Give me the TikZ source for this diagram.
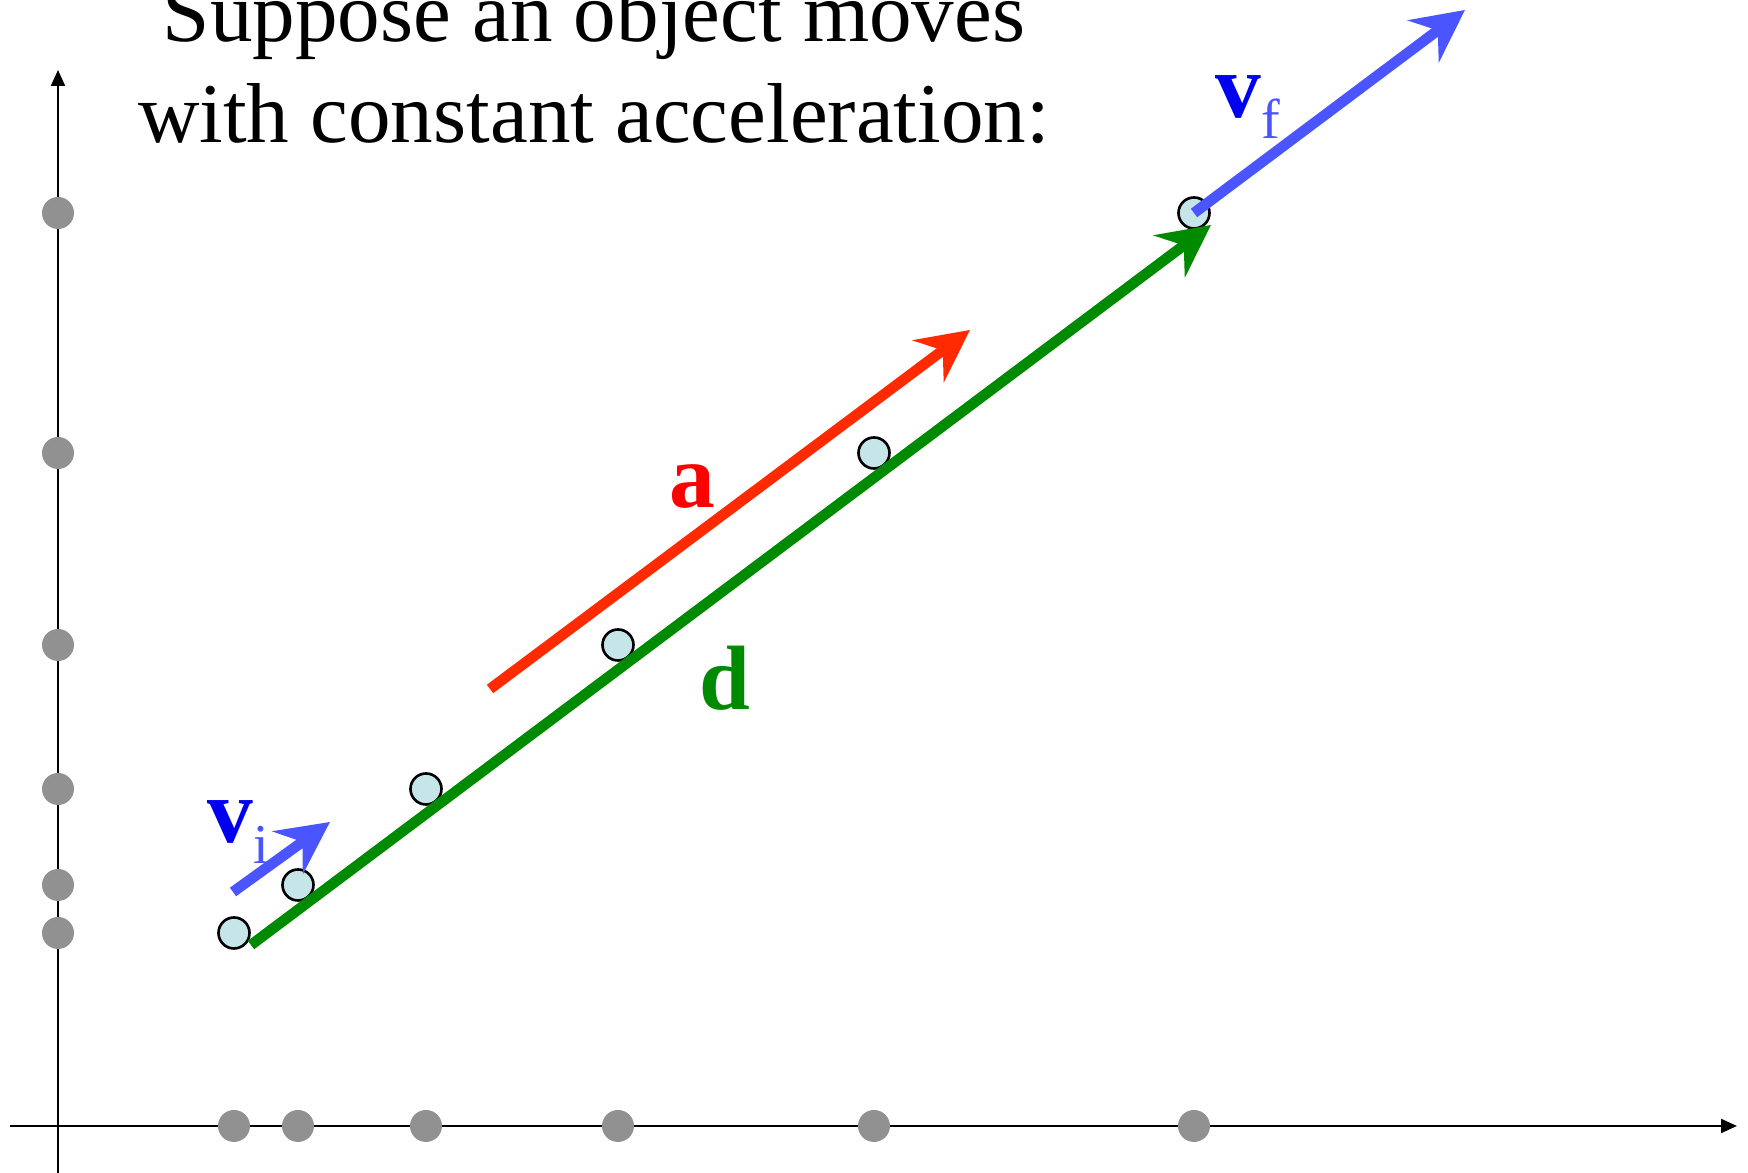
\documentclass[tikz,border=0pt]{standalone}
\usepackage{fontspec}
\setmainfont{Liberation Serif}
\usetikzlibrary{positioning,arrows.meta}
\definecolor{dotgray}{HTML}{919191}
\definecolor{ballfill}{HTML}{C5E5E8}
\definecolor{accred}{HTML}{FF2A00}
\definecolor{dispgreen}{HTML}{008A00}
\definecolor{velblue}{HTML}{4A55FF}
\definecolor{labblue}{HTML}{0000F0}
\newcommand{\velsub}[1]{{\fontsize{16}{16}\selectfont\mdseries\color{velblue}\raisebox{-5.7pt}{#1}}}
\tikzset{
  axisline/.style={line width=0.6pt, -{Triangle[length=1.6mm, width=1.4mm]}},
  tickdot/.style={circle, fill=dotgray, minimum size=3.2mm, inner sep=0pt},
  ballnode/.style={circle, draw, line width=0.75pt, fill=ballfill, minimum size=3.1mm, inner sep=0pt},
  vecarrow/.style={line width=3pt, -{Stealth[length=5.2mm, width=5.2mm, inset=1.8mm]}},
  veclabel/.style={font=\fontsize{26}{26}\selectfont\bfseries, inner sep=0pt, anchor=base},
  titletext/.style={font=\fontsize{24.2}{28}\selectfont, inner sep=0pt, anchor=base}
}
\begin{document}
\begin{tikzpicture}
  \useasboundingbox (0,0) rectangle (17.48,11.73);
  % axes
  \coordinate (xstart) at (0.10,0.47);
  \coordinate (xend) at (17.37,0.47);
  \coordinate (ystart) at (0.58,0);
  \coordinate (yend) at (0.58,11.03);
  \draw[axisline] (xstart) -- (xend);
  \draw[axisline] (ystart) -- (yend);
  % positions at equal time steps
  \foreach \k/\n in {0/0,1/1,2/3,3/6,4/10,5/15} {
    \node[tickdot] (tx\k) at (2.34+0.64*\n,0.47) {};
    \node[tickdot] (ty\k) at (0.58,2.40+0.48*\n) {};
    \node[ballnode] (p\k) at (2.34+0.64*\n,2.40+0.48*\n) {};
  }
  % displacement
  \draw[vecarrow, dispgreen] ([shift={(0.17,-0.12)}]p0.center) -- ([shift={(0.17,-0.12)}]p5.center);
  % acceleration
  \coordinate (acc0) at (4.90,4.84);
  \coordinate (acc1) at (9.70,8.43);
  \draw[vecarrow, accred] (acc0) -- (acc1);
  % velocities
  \coordinate (vi0) at (2.33,2.81);
  \coordinate (vi1) at (3.30,3.51);
  \draw[vecarrow, velblue] (vi0) -- (vi1);
  \coordinate (vf1) at (14.65,11.63);
  \draw[vecarrow, velblue] (p5.center) -- (vf1);
  % labels
  \node[veclabel, text=red] (alab) at (6.92,6.65) {a};
  \node[veclabel, text=dispgreen] (dlab) at (7.25,4.63) {d};
  \node[veclabel, anchor=base west, text=labblue] (vilab) at (2.07,3.30) {v\velsub{i}};
  \node[veclabel, anchor=base west, text=labblue] (vflab) at (12.15,10.55) {v\velsub{f}};
  % title
  \node[titletext] (title1) at (5.94,11.31) {Suppose an object moves};
  \node[titletext] (title2) at ([yshift=-1.01cm]title1.base) {with constant acceleration:};
\end{tikzpicture}
\end{document}
